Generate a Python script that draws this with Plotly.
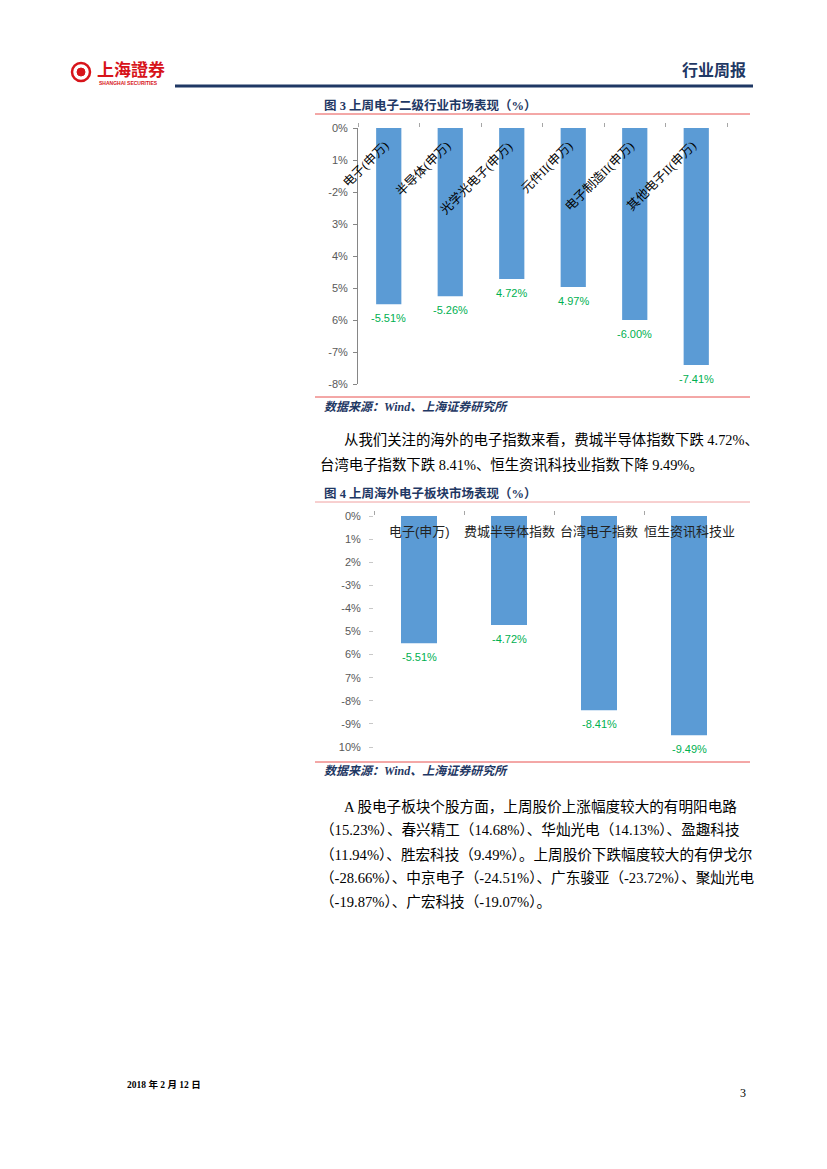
import plotly.graph_objects as go

W, H = 827, 1169

# ---- data ----
cats1 = ["电子(申万)", "半导体(申万)", "光学光电子(申万)", "元件II(申万)", "电子制造II(申万)", "其他电子II(申万)"]
vals1 = [-5.51, -5.26, -4.72, -4.97, -6.00, -7.41]
lbls1 = ["-5.51%", "-5.26%", "4.72%", "4.97%", "-6.00%", "-7.41%"]
ytv1 = [0, -1, -2, -3, -4, -5, -6, -7, -8]
ytt1 = ["0%", "1%", "-2%", "3%", "4%", "5%", "6%", "-7%", "-8%"]

cats2 = ["电子(申万)", "费城半导体指数", "台湾电子指数", "恒生资讯科技业"]
vals2 = [-5.51, -4.72, -8.41, -9.49]
lbls2 = ["-5.51%", "-4.72%", "-8.41%", "-9.49%"]
ytv2 = [0, -1, -2, -3, -4, -5, -6, -7, -8, -9, -10]
ytt2 = ["0%", "1%", "2%", "-3%", "-4%", "5%", "6%", "7%", "-8%", "-9%", "10%"]

title3 = "图 3 上周电子二级行业市场表现（%）"
title4 = "图 4 上周海外电子板块市场表现（%）"
source = "数据来源：Wind、上海证券研究所"
para1 = ["从我们关注的海外的电子指数来看，费城半导体指数下跌 4.72%、",
         "台湾电子指数下跌 8.41%、恒生资讯科技业指数下降 9.49%。"]
para2 = ["A 股电子板块个股方面，上周股价上涨幅度较大的有明阳电路",
         "（15.23%）、春兴精工（14.68%）、华灿光电（14.13%）、盈趣科技",
         "（11.94%）、胜宏科技（9.49%）。上周股价下跌幅度较大的有伊戈尔",
         "（-28.66%）、中京电子（-24.51%）、广东骏亚（-23.72%）、聚灿光电",
         "（-19.87%）、广宏科技（-19.07%）。"]

BAR = "#5B9BD5"
GREEN = "#00B050"
NAVY = "#1F3864"
RED = "#E8504F"
SERIF = "Liberation Serif, Noto Sans CJK SC"
SANS = "Liberation Sans, Noto Sans CJK SC"


def px(x):
    return x / W


def py(y):
    return 1 - y / H


fig = go.Figure()

fig.add_trace(go.Bar(x=cats1, y=vals1, marker_color=BAR, width=0.41,
                     xaxis="x", yaxis="y", showlegend=False, hoverinfo="skip"))
fig.add_trace(go.Bar(x=cats2, y=vals2, marker_color=BAR, width=0.4,
                     xaxis="x2", yaxis="y2", showlegend=False, hoverinfo="skip"))

tickfont = dict(size=11, color="#595959", family=SANS)

fig.update_layout(
    template="none",
    width=W, height=H, autosize=False,
    margin=dict(l=0, r=0, t=0, b=0, pad=0),
    paper_bgcolor="white", plot_bgcolor="white",
    xaxis=dict(domain=[px(358), px(727)], anchor="y", side="top",
               range=[-0.5, 5.5], autorange=False, automargin=False,
               showticklabels=False, tickson="boundaries", ticks="outside",
               ticklen=4, tickcolor="#A6A6A6", showline=False,
               showgrid=False, zeroline=False),
    yaxis=dict(domain=[py(384), py(128)], anchor="x", range=[-8, 0],
               autorange=False, automargin=False,
               tickvals=ytv1, ticktext=ytt1, tickfont=tickfont,
               ticks="outside", ticklen=4, tickcolor="#868686",
               ticklabelstandoff=3,
               showline=True, linecolor="#868686", linewidth=1,
               showgrid=False, zeroline=False),
    xaxis2=dict(domain=[px(374), px(734)], anchor="y2", side="top",
                range=[-0.5, 3.5], autorange=False, automargin=False,
                showticklabels=False, tickson="boundaries", ticks="outside",
                ticklen=4, tickcolor="#A6A6A6", showline=False,
                showgrid=False, zeroline=False),
    yaxis2=dict(domain=[py(747), py(516)], anchor="x2", range=[-10, 0],
                autorange=False, automargin=False,
                tickvals=ytv2, ticktext=ytt2, tickfont=tickfont,
                ticks="outside", ticklen=4, tickcolor="#C8C8C8",
                ticklabelstandoff=6,
                showline=False, showgrid=False, zeroline=False),
    bargap=0.5,
)

ann = []
# category labels chart 1 (rotated)
for c in cats1:
    ann.append(dict(x=c, y=0, xref="x", yref="y", text=c, textangle=-45,
                    xanchor="right", yanchor="top", xshift=6, yshift=-8,
                    showarrow=False, font=dict(size=12.5, color="black", family=SERIF)))
# category labels chart 2
for c in cats2:
    ann.append(dict(x=c, y=0, xref="x2", yref="y2", text=c,
                    xanchor="center", yanchor="middle", yshift=-15,
                    showarrow=False, font=dict(size=13, color="#222222", family=SANS)))
# data labels
for c, v, t in zip(cats1, vals1, lbls1):
    ann.append(dict(x=c, y=v, xref="x", yref="y", text=t, xanchor="center",
                    yanchor="top", yshift=-6, showarrow=False,
                    font=dict(size=11, color=GREEN, family=SANS)))
for c, v, t in zip(cats2, vals2, lbls2):
    ann.append(dict(x=c, y=v, xref="x2", yref="y2", text=t, xanchor="center",
                    yanchor="top", yshift=-6, showarrow=False,
                    font=dict(size=11, color=GREEN, family=SANS)))


def txt(x, y, s, size=14, color="black", family=SERIF, anchor="left", bold=False, italic=False):
    if bold:
        s = "<b>" + s + "</b>"
    if italic:
        s = "<i>" + s + "</i>"
    ann.append(dict(x=px(x), y=py(y), xref="paper", yref="paper", text=s,
                    xanchor=anchor, yanchor="middle", showarrow=False,
                    font=dict(size=size, color=color, family=family)))


# header
txt(95, 70, "上海證券", size=17, color="#D7141A", family=SERIF, bold=True)
txt(97, 83, "SHANGHAI SECURITIES", size=5, color="#D7141A", family=SANS, bold=True)
txt(748, 70, "行业周报", size=16, color=NAVY, family=SERIF, anchor="right", bold=True)

# figure titles / sources / body text
txt(322, 105, title3, size=12.5, color=NAVY, family=SERIF, bold=True)
txt(322, 407, source, size=12, color=NAVY, family=SERIF, bold=True, italic=True)
txt(342, 440, para1[0], size=14.4)
txt(318, 465, para1[1], size=14.4)
txt(322, 493, title4, size=12.5, color=NAVY, family=SERIF, bold=True)
txt(322, 771, source, size=12, color=NAVY, family=SERIF, bold=True, italic=True)
for i, line in enumerate(para2):
    txt(342 if i == 0 else 318, 806 + 24 * i, line, size=14.6)

# footer
txt(125, 1084, "2018 年 2 月 12 日", size=9.5, color="black", family=SERIF, bold=True)
txt(748, 1093, "3", size=12, color="black", family=SERIF, anchor="right")

fig.update_layout(annotations=ann)

shapes = [
    # header rule
    dict(type="line", xref="paper", yref="paper", x0=px(175), x1=px(753), y0=py(86), y1=py(86),
         line=dict(color=NAVY, width=3)),
    # logo circle
    dict(type="circle", xref="paper", yref="paper", x0=px(72), x1=px(90), y0=py(81), y1=py(63),
         line=dict(color="#D7141A", width=2.5)),
    dict(type="circle", xref="paper", yref="paper", x0=px(77), x1=px(85), y0=py(76), y1=py(68),
         fillcolor="#D7141A", line=dict(color="#D7141A", width=1)),
    # red rules
    dict(type="line", xref="paper", yref="paper", x0=px(315), x1=px(750), y0=py(114), y1=py(114),
         line=dict(color=RED, width=1)),
    dict(type="line", xref="paper", yref="paper", x0=px(315), x1=px(750), y0=py(397), y1=py(397),
         line=dict(color=RED, width=1)),
    dict(type="line", xref="paper", yref="paper", x0=px(315), x1=px(750), y0=py(502), y1=py(502),
         line=dict(color="#F0A0A0", width=1)),
    dict(type="line", xref="paper", yref="paper", x0=px(315), x1=px(750), y0=py(762), y1=py(762),
         line=dict(color=RED, width=1)),
]
fig.update_layout(shapes=shapes)

fig.write_html("out.html", config={"displayModeBar": False},
               post_script="document.body.style.margin='0';document.body.style.overflow='hidden';")
